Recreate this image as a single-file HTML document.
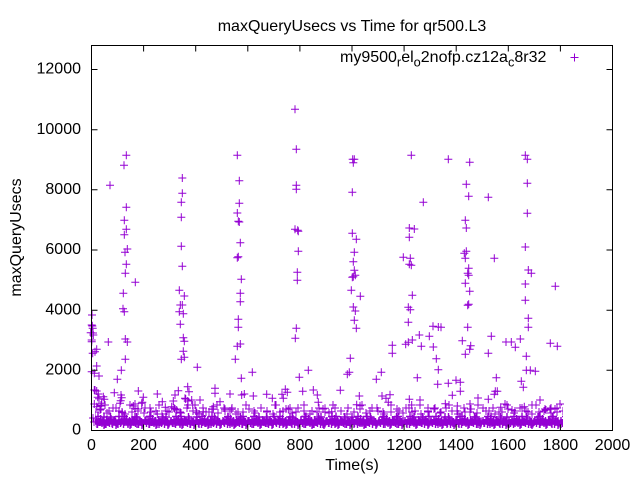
<!DOCTYPE html>
<html><head><meta charset="utf-8"><style>
html,body{margin:0;padding:0;background:#fff;}
svg{display:block;}
text{font-family:"Liberation Sans",sans-serif;font-size:16px;fill:#000;}
</style></head><body>
<svg width="640" height="480" viewBox="0 0 640 480" xmlns="http://www.w3.org/2000/svg">
<defs>
<path id="p" d="M-4 0h8M0-4v8"/>
<pattern id="b1" x="92" y="412" width="26" height="20" patternUnits="userSpaceOnUse">
<path fill="none" stroke="#9400d3" stroke-width="1.4" d="M-3 9h8M1 5v8M-1.5 11h8M2.5 7v8M0 8h8M4 4v8M1.5 12h8M5.5 8v8M3 10h8M7 6v8M4.5 7h8M8.5 3v8M6 11h8M10 7v8M7.5 9h8M11.5 5v8M9 12h8M13 8v8M10.5 8h8M14.5 4v8M12 10h8M16 6v8M13.5 11h8M17.5 7v8M15 7h8M19 3v8M16.5 12h8M20.5 8v8M18 9h8M22 5v8M19.5 10h8M23.5 6v8M21 11.5h8M25 7.5v8M23 9h8M27 5v8M24.5 11h8M28.5 7v8M-5 11.5h8M-1 7.5v8M-6.5 10h8M-2.5 6v8M2 4.5h8M6 0.5v8M14.5 5h8M18.5 1v8M8 13h8M12 9v8M20 13h8M24 9v8"/>
</pattern>
<pattern id="b3" x="95" y="412" width="31" height="20" patternUnits="userSpaceOnUse">
<path fill="none" stroke="#9400d3" stroke-width="1.4" d="M-2 12h8M2 8v8M1 10h8M5 6v8M4 8.5h8M8 4.5v8M7 12h8M11 8v8M10 9.5h8M14 5.5v8M13 11h8M17 7v8M16 8h8M20 4v8M19 12h8M23 8v8M22 10h8M26 6v8M25 9h8M29 5v8M29 12h8M33 8v8M-6 9h8M-2 5v8M-2 12h8M-2 8v8M5 5h8M9 1v8M20 4.5h8M24 0.5v8"/>
</pattern>
<pattern id="b2" x="92" y="400" width="37" height="20" patternUnits="userSpaceOnUse">
<path fill="none" stroke="#9400d3" stroke-width="1" d="M-1 12h8M3 8v8M5 9h8M9 5v8M11 13h8M15 9v8M17 8h8M21 4v8M23 11h8M27 7v8M29 14h8M33 10v8M36 12h8M40 8v8"/>
</pattern>
<pattern id="b4" x="97" y="398" width="29" height="20" patternUnits="userSpaceOnUse">
<path fill="none" stroke="#9400d3" stroke-width="1" d="M0 7h8M4 3v8M8 13h8M12 9v8M15 10h8M19 6v8M21 14h8M25 10v8"/>
</pattern>
</defs>

<!-- dense low band -->
<rect x="96" y="398" width="466" height="20" fill="url(#b4)"/>
<rect x="95" y="400" width="468" height="20" fill="url(#b2)"/>
<rect x="95" y="412" width="468" height="20" fill="url(#b1)"/>
<rect x="96" y="412" width="466" height="20" fill="url(#b3)"/>

<g stroke="#9400d3" stroke-width="1" fill="none">
<!-- column near 0 -->
<use href="#p" x="91.7" y="325"/><use href="#p" x="92.7" y="328.3"/><use href="#p" x="90.7" y="332.7"/><use href="#p" x="93.3" y="335"/><use href="#p" x="91.7" y="340"/><use href="#p" x="92" y="315"/><use href="#p" x="92.3" y="326"/><use href="#p" x="93" y="333"/><use href="#p" x="91.7" y="341.7"/><use href="#p" x="92.7" y="353.3"/><use href="#p" x="95" y="351.7"/><use href="#p" x="96.7" y="349.3"/><use href="#p" x="96.7" y="366"/><use href="#p" x="91.7" y="371.7"/><use href="#p" x="94.3" y="373.3"/><use href="#p" x="99" y="376"/><use href="#p" x="94.3" y="390"/><use href="#p" x="96.7" y="391"/><use href="#p" x="97.7" y="397.3"/><use href="#p" x="99" y="398.7"/><use href="#p" x="94.3" y="404"/><use href="#p" x="96.7" y="406.7"/><use href="#p" x="100" y="410"/><use href="#p" x="95" y="390"/><use href="#p" x="98.3" y="394"/><use href="#p" x="103.3" y="396.7"/><use href="#p" x="105" y="405"/><use href="#p" x="101.7" y="403.3"/><use href="#p" x="93" y="418"/><use href="#p" x="94" y="422"/>
<!-- column ~125 -->
<use href="#p" x="126.3" y="155.3"/><use href="#p" x="124" y="165.3"/><use href="#p" x="110" y="185.3"/><use href="#p" x="126.3" y="207.3"/><use href="#p" x="124.3" y="220.3"/><use href="#p" x="126.3" y="229.3"/><use href="#p" x="124.3" y="234.7"/><use href="#p" x="127.3" y="249"/><use href="#p" x="125" y="252.3"/><use href="#p" x="126.3" y="264.3"/><use href="#p" x="125.3" y="273.3"/><use href="#p" x="135.3" y="282.3"/><use href="#p" x="123.3" y="293.3"/><use href="#p" x="123" y="308.7"/><use href="#p" x="124.3" y="311.7"/><use href="#p" x="125.3" y="339"/><use href="#p" x="127.3" y="342"/><use href="#p" x="125.3" y="359.3"/><use href="#p" x="121.3" y="370.3"/><use href="#p" x="117.3" y="379.3"/><use href="#p" x="108.3" y="342"/><use href="#p" x="114.3" y="392.7"/><use href="#p" x="104.3" y="399.3"/><use href="#p" x="101" y="406"/><use href="#p" x="121.7" y="397.7"/><use href="#p" x="120.7" y="400.7"/><use href="#p" x="120" y="403.3"/><use href="#p" x="122.3" y="412.7"/><use href="#p" x="133.3" y="406"/><use href="#p" x="135" y="404"/><use href="#p" x="138.3" y="391"/><use href="#p" x="143.3" y="397.3"/><use href="#p" x="142.3" y="402.3"/><use href="#p" x="121" y="395"/><use href="#p" x="135" y="408.3"/><use href="#p" x="141.7" y="403.3"/>
<!-- column ~182 -->
<use href="#p" x="182.3" y="178"/><use href="#p" x="182.3" y="193.3"/><use href="#p" x="181.3" y="202.3"/><use href="#p" x="181.3" y="217.3"/><use href="#p" x="181.3" y="246.3"/><use href="#p" x="182.3" y="266.3"/><use href="#p" x="179.3" y="290.3"/><use href="#p" x="184.3" y="296"/><use href="#p" x="180.3" y="305"/><use href="#p" x="182.3" y="305"/><use href="#p" x="179.3" y="311.7"/><use href="#p" x="183.3" y="313.7"/><use href="#p" x="180.3" y="324.3"/><use href="#p" x="183.3" y="337.7"/><use href="#p" x="184.3" y="341.3"/><use href="#p" x="183.3" y="351.3"/><use href="#p" x="181.3" y="359.3"/><use href="#p" x="184.3" y="357.3"/><use href="#p" x="197.3" y="367.3"/>
<use href="#p" x="157.3" y="394"/><use href="#p" x="162.3" y="401.7"/><use href="#p" x="165.3" y="407.3"/><use href="#p" x="157.3" y="414"/><use href="#p" x="173.3" y="401"/><use href="#p" x="176.7" y="410"/><use href="#p" x="178.3" y="390.7"/><use href="#p" x="187.7" y="386.7"/><use href="#p" x="189" y="391.7"/><use href="#p" x="185.7" y="399"/><use href="#p" x="187.7" y="401"/><use href="#p" x="192.7" y="405"/><use href="#p" x="196.7" y="412.7"/><use href="#p" x="171.7" y="406.7"/><use href="#p" x="175" y="395"/><use href="#p" x="185" y="398.3"/><use href="#p" x="191.7" y="400"/><use href="#p" x="195" y="405"/>
<!-- column ~238 -->
<use href="#p" x="237.3" y="155.3"/><use href="#p" x="239.3" y="180.7"/><use href="#p" x="239.3" y="203.3"/><use href="#p" x="237.3" y="213"/><use href="#p" x="238.3" y="221.3"/><use href="#p" x="239.3" y="222"/><use href="#p" x="240.3" y="242.7"/><use href="#p" x="237.3" y="257.7"/><use href="#p" x="238.3" y="256.7"/><use href="#p" x="241.3" y="279.3"/><use href="#p" x="240.3" y="293.3"/><use href="#p" x="240.3" y="301.7"/><use href="#p" x="238.3" y="319.3"/><use href="#p" x="238.3" y="327.3"/><use href="#p" x="240.3" y="344"/><use href="#p" x="237.3" y="346.3"/><use href="#p" x="235.3" y="359.3"/><use href="#p" x="241.3" y="378.3"/><use href="#p" x="252.3" y="372.3"/>
<use href="#p" x="200" y="400"/><use href="#p" x="203.3" y="411.7"/><use href="#p" x="213.3" y="406.7"/><use href="#p" x="215" y="388.3"/><use href="#p" x="215" y="393.3"/><use href="#p" x="220" y="401.7"/><use href="#p" x="225" y="409.3"/><use href="#p" x="230" y="394"/><use href="#p" x="231.7" y="409.3"/><use href="#p" x="241.7" y="395"/><use href="#p" x="244.3" y="394"/><use href="#p" x="253.3" y="396"/><use href="#p" x="213.3" y="409.3"/>
<!-- column ~296 -->
<use href="#p" x="295" y="109.3"/><use href="#p" x="296.3" y="149.3"/><use href="#p" x="296.3" y="185.3"/><use href="#p" x="296.3" y="189.3"/><use href="#p" x="295" y="229.3"/><use href="#p" x="297.7" y="230.3"/><use href="#p" x="298.3" y="231.3"/><use href="#p" x="298.3" y="251.3"/><use href="#p" x="297.3" y="272.3"/><use href="#p" x="297.3" y="280.3"/><use href="#p" x="296.3" y="328.3"/><use href="#p" x="295.3" y="338.3"/><use href="#p" x="299.3" y="377.3"/><use href="#p" x="308.3" y="370.3"/>
<use href="#p" x="266.7" y="394.3"/><use href="#p" x="272.3" y="398.3"/><use href="#p" x="276" y="405"/><use href="#p" x="282" y="394.3"/><use href="#p" x="285.3" y="389.3"/><use href="#p" x="287.3" y="392.3"/><use href="#p" x="283.3" y="398.3"/><use href="#p" x="302.7" y="391.3"/><use href="#p" x="313.3" y="390"/><use href="#p" x="317.3" y="395"/><use href="#p" x="318.3" y="402.3"/><use href="#p" x="340.3" y="390.3"/><use href="#p" x="359.3" y="396"/><use href="#p" x="356.7" y="404.7"/><use href="#p" x="360" y="405.7"/><use href="#p" x="382" y="396"/><use href="#p" x="386" y="398.3"/><use href="#p" x="390" y="394.7"/><use href="#p" x="388.3" y="402.3"/><use href="#p" x="409.3" y="399.3"/><use href="#p" x="411.7" y="405"/><use href="#p" x="288.3" y="409.3"/><use href="#p" x="325" y="408.3"/><use href="#p" x="331.7" y="411.7"/>
<!-- column ~353 -->
<use href="#p" x="352.7" y="159.3"/><use href="#p" x="354.3" y="159.3"/><use href="#p" x="353.3" y="162.7"/><use href="#p" x="352.3" y="192.3"/><use href="#p" x="352.3" y="233.3"/><use href="#p" x="356.3" y="239.3"/><use href="#p" x="354.3" y="252.3"/><use href="#p" x="353.3" y="261.7"/><use href="#p" x="354.3" y="270.3"/><use href="#p" x="353.3" y="276.7"/><use href="#p" x="352.3" y="277.3"/><use href="#p" x="355.3" y="275.3"/><use href="#p" x="351.3" y="290.3"/><use href="#p" x="360.3" y="296.3"/><use href="#p" x="353.3" y="307"/><use href="#p" x="355.3" y="311"/><use href="#p" x="354.3" y="320.3"/><use href="#p" x="356.3" y="328.3"/><use href="#p" x="350.3" y="358.3"/><use href="#p" x="347.3" y="374.3"/><use href="#p" x="349.3" y="372.3"/>
<!-- column ~410 -->
<use href="#p" x="411.3" y="155.3"/><use href="#p" x="423.3" y="202.3"/><use href="#p" x="409.3" y="228"/><use href="#p" x="414.3" y="229"/><use href="#p" x="409.3" y="237.3"/><use href="#p" x="403.3" y="257.3"/><use href="#p" x="410.3" y="258.3"/><use href="#p" x="409.3" y="264.3"/><use href="#p" x="411.3" y="265.3"/><use href="#p" x="412.3" y="295.3"/><use href="#p" x="408.3" y="307.3"/><use href="#p" x="410.3" y="309.7"/><use href="#p" x="408.3" y="322.3"/><use href="#p" x="433" y="326.3"/><use href="#p" x="438.3" y="327"/><use href="#p" x="419.3" y="335"/><use href="#p" x="429.3" y="336.3"/><use href="#p" x="405.7" y="344.3"/><use href="#p" x="408.3" y="342.3"/><use href="#p" x="412.3" y="340"/><use href="#p" x="421.3" y="346.3"/><use href="#p" x="433.3" y="347"/><use href="#p" x="392.3" y="345.3"/><use href="#p" x="392.3" y="353.3"/><use href="#p" x="436.3" y="358.7"/><use href="#p" x="438.3" y="369.7"/><use href="#p" x="437.7" y="384.3"/><use href="#p" x="417.3" y="377.7"/><use href="#p" x="381.3" y="372.3"/><use href="#p" x="376.3" y="379.3"/>
<use href="#p" x="420" y="400"/><use href="#p" x="428" y="408"/>
<!-- column ~467 -->
<use href="#p" x="448.3" y="159.3"/><use href="#p" x="469.7" y="162.3"/><use href="#p" x="466.3" y="184.3"/><use href="#p" x="468.7" y="196.3"/><use href="#p" x="488.3" y="197.3"/><use href="#p" x="465.3" y="220.3"/><use href="#p" x="466.3" y="228"/><use href="#p" x="464.3" y="253.3"/><use href="#p" x="466.3" y="251.3"/><use href="#p" x="465.3" y="258.3"/><use href="#p" x="494.3" y="258.3"/><use href="#p" x="468.7" y="268.3"/><use href="#p" x="467.7" y="273.3"/><use href="#p" x="468.7" y="275.3"/><use href="#p" x="465.3" y="283.3"/><use href="#p" x="469.7" y="291.3"/><use href="#p" x="468.7" y="304.3"/><use href="#p" x="467.7" y="305.3"/><use href="#p" x="441" y="327.3"/><use href="#p" x="467.7" y="327.3"/><use href="#p" x="491.3" y="336.3"/><use href="#p" x="462.3" y="340.7"/><use href="#p" x="470.7" y="345.7"/><use href="#p" x="469.7" y="349.3"/><use href="#p" x="465.3" y="354.3"/><use href="#p" x="488.3" y="353.3"/>
<use href="#p" x="448.3" y="383.3"/><use href="#p" x="456" y="380.3"/><use href="#p" x="460.3" y="382.3"/><use href="#p" x="452.3" y="395.3"/><use href="#p" x="460.3" y="391.3"/><use href="#p" x="445.3" y="403.7"/><use href="#p" x="457.3" y="406"/><use href="#p" x="496.3" y="377.7"/><use href="#p" x="495.3" y="391.3"/><use href="#p" x="497.3" y="391.3"/><use href="#p" x="494.3" y="394.3"/><use href="#p" x="488.3" y="399.3"/><use href="#p" x="500.7" y="407.3"/><use href="#p" x="470" y="404"/><use href="#p" x="478" y="398"/><use href="#p" x="505" y="404"/><use href="#p" x="512" y="410"/>
<!-- column ~526 -->
<use href="#p" x="525.3" y="155.3"/><use href="#p" x="527.3" y="159.3"/><use href="#p" x="527.3" y="183.3"/><use href="#p" x="527.3" y="213.3"/><use href="#p" x="525.3" y="247"/><use href="#p" x="528.3" y="270"/><use href="#p" x="531.3" y="273.3"/><use href="#p" x="525.3" y="284"/><use href="#p" x="555.3" y="286.3"/><use href="#p" x="525.3" y="300.3"/><use href="#p" x="528.3" y="318.3"/><use href="#p" x="528.3" y="327.3"/><use href="#p" x="520.3" y="339"/><use href="#p" x="506" y="342"/><use href="#p" x="511.3" y="342"/><use href="#p" x="515.3" y="347.3"/><use href="#p" x="550.3" y="343.3"/><use href="#p" x="557.3" y="346.3"/><use href="#p" x="526.3" y="356.3"/><use href="#p" x="526.3" y="370.3"/><use href="#p" x="530.3" y="370.3"/><use href="#p" x="535.3" y="371.3"/><use href="#p" x="521.3" y="381.3"/><use href="#p" x="523.3" y="387.3"/>
<use href="#p" x="524.3" y="406.7"/><use href="#p" x="550" y="409.3"/><use href="#p" x="555" y="409"/><use href="#p" x="532" y="405"/><use href="#p" x="540" y="400"/><use href="#p" x="546" y="410"/><use href="#p" x="560" y="404"/>
<!-- legend sample -->
<path d="M570.5 57.5h8M574.5 53.5v8"/>
</g>

<!-- frame -->
<rect x="91.5" y="45.5" width="521" height="385" fill="none" stroke="#000" stroke-width="1"/>
<path stroke="#000" stroke-width="1" fill="none" d="
M143.6 430.5v-6M195.7 430.5v-6M247.8 430.5v-6M299.9 430.5v-6M352 430.5v-6M404.1 430.5v-6M456.2 430.5v-6M508.3 430.5v-6M560.4 430.5v-6
M143.6 45.5v6M195.7 45.5v6M247.8 45.5v6M299.9 45.5v6M352 45.5v6M404.1 45.5v6M456.2 45.5v6M508.3 45.5v6M560.4 45.5v6
M91.5 370.3h6M91.5 310.2h6M91.5 250h6M91.5 189.8h6M91.5 129.7h6M91.5 69.5h6
M612.5 370.3h-6M612.5 310.2h-6M612.5 250h-6M612.5 189.8h-6M612.5 129.7h-6M612.5 69.5h-6"/>

<!-- y tick labels -->
<g text-anchor="end">
<text x="81" y="434.7">0</text>
<text x="81" y="374.5">2000</text>
<text x="81" y="314.4">4000</text>
<text x="81" y="254.2">6000</text>
<text x="81" y="194">8000</text>
<text x="81" y="133.9">10000</text>
<text x="81" y="73.7">12000</text>
</g>
<!-- x tick labels -->
<g text-anchor="middle">
<text x="91.5" y="450">0</text>
<text x="143.6" y="450">200</text>
<text x="195.7" y="450">400</text>
<text x="247.8" y="450">600</text>
<text x="299.9" y="450">800</text>
<text x="352" y="450">1000</text>
<text x="404.1" y="450">1200</text>
<text x="456.2" y="450">1400</text>
<text x="508.3" y="450">1600</text>
<text x="560.4" y="450">1800</text>
<text x="612.5" y="450">2000</text>
</g>

<text x="352" y="31" text-anchor="middle">maxQueryUsecs vs Time for qr500.L3</text>
<text x="352" y="470" text-anchor="middle">Time(s)</text>
<text transform="translate(21,237.5) rotate(-90)" text-anchor="middle">maxQueryUsecs</text>

<text x="340" y="62">my9500<tspan dy="4.5" font-size="12.8">r</tspan><tspan dy="-4.5">el</tspan><tspan dy="4.5" font-size="12.8">o</tspan><tspan dy="-4.5">2nofp.cz12a</tspan><tspan dy="4.5" font-size="12.8">c</tspan><tspan dy="-4.5">8r32</tspan></text>
</svg>
</body></html>
